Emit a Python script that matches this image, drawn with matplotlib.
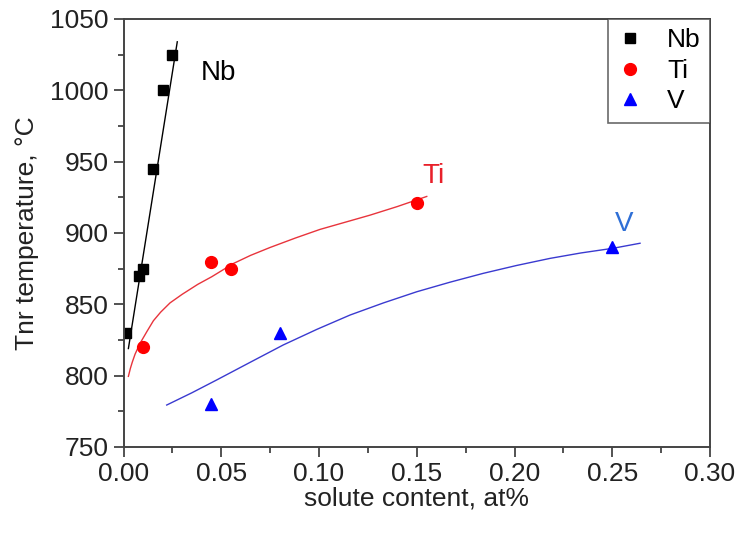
import numpy as np
import matplotlib.pyplot as plt
from matplotlib.ticker import MultipleLocator

plt.rcParams['font.family'] = ['Liberation Sans', 'DejaVu Sans']

# measured Tnr values
nb_x = [0.0015, 0.008, 0.010, 0.015, 0.020, 0.025]
nb_y = [830, 870, 875, 945, 1000, 1025]
ti_x = [0.010, 0.045, 0.055, 0.150]
ti_y = [820, 880, 875, 921]
v_x = [0.045, 0.080, 0.250]
v_y = [780, 830, 890]

# fitted trend lines
nb_fit_x = [0.0025, 0.0275]
nb_fit_y = [819, 1034]
ti_fit_x = [0.0025, 0.0035, 0.0045, 0.0059, 0.0084, 0.012, 0.0153, 0.019,
            0.0238, 0.030, 0.038, 0.0451, 0.0562, 0.065, 0.0749, 0.088,
            0.1005, 0.1261, 0.140, 0.1551]
ti_fit_y = [799.5, 805.0, 809.5, 815.0, 822.5, 831.0, 838.5, 844.5,
            851.0, 857.0, 864.0, 869.3, 878.6, 884.3, 889.8, 896.5,
            902.5, 912.5, 918.5, 925.6]
v_fit_x = [0.0221, 0.035, 0.0477, 0.065, 0.0817, 0.099, 0.1159, 0.133,
           0.150, 0.167, 0.184, 0.201, 0.2182, 0.234, 0.2505, 0.2642]
v_fit_y = [779.4, 788.0, 797.0, 809.5, 821.5, 832.5, 842.5, 851.0,
           858.8, 865.5, 871.7, 877.2, 882.2, 886.0, 889.3, 892.8]

fs = 19
spine_c = '#444444'

fig = plt.figure(figsize=(7.4, 5.33), dpi=100)
ax = fig.add_axes([0.1669, 0.1614, 0.7926, 0.8030])

ax.plot(nb_fit_x, nb_fit_y, color='black', lw=1.0)
ax.plot(ti_fit_x, ti_fit_y, color='#e8343c', lw=1.0)
ax.plot(v_fit_x, v_fit_y, color='#3a3ad0', lw=1.0)

ax.plot(nb_x, nb_y, 's', color='black', ms=7.5, label='Nb')
ax.plot(ti_x, ti_y, 'o', color='#ff0000', ms=8.5, label='Ti')
ax.plot(v_x, v_y, '^', color='#0000ff', ms=9, label='V')

ax.text(0.0485, 1007, 'Nb', fontsize=fs + 1, color='black', ha='center', va='baseline')
ax.text(0.1585, 935, 'Ti', fontsize=fs + 1, color='#e8202a', ha='center', va='baseline')
ax.text(0.2563, 901.5, 'V', fontsize=fs + 1, color='#2f6fd6', ha='center', va='baseline')

ax.set_xlim(0, 0.30)
ax.set_ylim(750, 1050)
ax.xaxis.set_major_locator(MultipleLocator(0.05))
ax.xaxis.set_minor_locator(MultipleLocator(0.025))
ax.yaxis.set_major_locator(MultipleLocator(50))
ax.yaxis.set_minor_locator(MultipleLocator(25))
ax.xaxis.set_major_formatter(plt.FormatStrFormatter('%.2f'))

ax.tick_params(which='both', direction='out', top=False, right=False,
               color=spine_c, width=1.3, labelsize=fs, labelcolor='#222222')
ax.tick_params(which='major', length=7)
ax.tick_params(which='minor', length=4)
for s in ax.spines.values():
    s.set_color(spine_c)
    s.set_linewidth(1.4)

ax.set_xlabel('solute content, at%', fontsize=fs, color='#222222', labelpad=1)
ax.set_ylabel('Tnr temperature, °C', fontsize=fs, color='#222222', labelpad=8)

leg = ax.legend(loc='upper right', fontsize=fs, frameon=True, fancybox=False,
                borderaxespad=0, handlelength=1.0, handletextpad=0.9,
                labelspacing=0.25, borderpad=0.35)
leg.get_frame().set_edgecolor(spine_c)
leg.get_frame().set_linewidth(1.2)

fig.savefig('out.png', dpi=100)
